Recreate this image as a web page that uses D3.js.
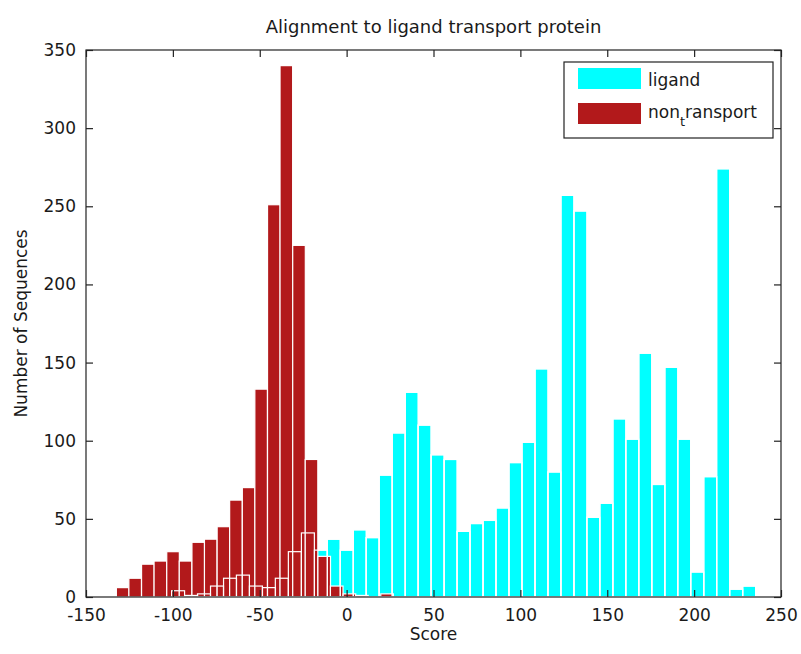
<!DOCTYPE html>
<html>
<head>
<meta charset="utf-8">
<script src="https://cdn.jsdelivr.net/npm/d3@7/dist/d3.min.js"></script>
<style>
  body { margin: 0; background: #fff; }
  text { font-family: "DejaVu Sans", sans-serif; fill: #1a1a1a; }
</style>
</head>
<body>
<div id="chart-area"></div>
<script>
// ligand histogram (bin centres / counts)
const ligandScores = [-97.0, -89.5, -82.1, -74.6, -67.1, -59.7, -52.2, -44.7, -37.3, -29.8,
    -22.3, -14.8, -7.4, 0.1, 7.6, 15.0, 22.5, 30.0, 37.5, 44.9,
    52.4, 59.9, 67.3, 74.8, 82.3, 89.7, 97.2, 104.7, 112.2, 119.6,
    127.1, 134.6, 142.0, 149.5, 157.0, 164.4, 171.9, 179.4, 186.9, 194.3,
    201.8, 209.3, 216.7, 224.2, 231.7];
const ligandCounts = [4, 1, 2, 7, 12, 14, 7, 6, 12, 29,
    41, 30, 37, 30, 43, 38, 78, 105, 131, 110,
    91, 88, 42, 47, 49, 57, 86, 99, 146, 80,
    257, 247, 51, 60, 114, 101, 156, 72, 147, 101,
    16, 77, 274, 5, 7];
const ligandBin = 7.47;

// non_transport histogram
const transportScores = [-128.9, -121.7, -114.4, -107.2, -99.9, -92.7, -85.4, -78.2, -70.9, -63.7,
    -56.4, -49.2, -41.9, -34.7, -27.4, -20.2, -12.9, -5.7, 1.6, 8.8,
    16.1, 23.3];
const transportCounts = [6, 12, 21, 23, 29, 23, 35, 37, 45, 62,
    70, 133, 251, 340, 225, 88, 26, 7, 2, 1,
    0, 2];
const transportBin = 7.25;

const xTicks = [-150, -100, -50, 0, 50, 100, 150, 200, 250];
const yTicks = [0, 50, 100, 150, 200, 250, 300, 350];
const seriesNames = ["ligand", "non", "t", "ransport"];

const cyan = "#00ffff";
const darkRed = "#b2191b";

/* SVG */
const margin = { left: 86, right: 20, top: 50, bottom: 57 };
const width  = 801 - margin.left - margin.right;
const height = 654 - margin.top - margin.bottom;

const svg = d3.select("#chart-area")
    .append("svg")
    .attr("width", 801)
    .attr("height", 654);

const g = svg.append("g")
    .attr("transform", `translate(${margin.left}, ${margin.top})`);

/* Scales */
const x = d3.scaleLinear().domain([-150, 250]).range([0, width]);
const y = d3.scaleLinear().domain([0, 350]).range([height, 0]);

const ligand = ligandScores.map((s, i) => ({ s: s, n: ligandCounts[i] }));
const transport = transportScores.map((s, i) => ({ s: s, n: transportCounts[i] }));

/* Bars */
function bars(data, bin, cls) {
    return g.append("g").attr("class", cls)
        .selectAll("rect")
        .data(data)
        .join("rect")
        .attr("x", d => x(d.s - bin / 2))
        .attr("width", d => x(d.s + bin / 2) - x(d.s - bin / 2))
        .attr("y", d => y(d.n))
        .attr("height", d => y(0) - y(d.n))
        .attr("stroke", "#fff")
        .attr("stroke-width", 1.2);
}

bars(ligand, ligandBin, "ligand").attr("fill", cyan);
bars(transport, transportBin, "transport").attr("fill", darkRed);
// ligand edges show through the red bars
bars(ligand, ligandBin, "ligand-edge").attr("fill", "none");

/* Axes (box, inward ticks) */
const tickLen = 7;
const axisColor = "#222";

g.append("rect")
    .attr("width", width)
    .attr("height", height)
    .attr("fill", "none")
    .attr("stroke", axisColor)
    .attr("stroke-width", 1.2);

const plainNum = d => String(d);   // plain hyphen, like the original

const xAxisBottom = d3.axisBottom(x).tickValues(xTicks).tickSize(-tickLen).tickPadding(12).tickFormat(plainNum);
const xAxisTop = d3.axisTop(x).tickValues(xTicks).tickSize(-tickLen).tickFormat("");
const yAxisLeft = d3.axisLeft(y).tickValues(yTicks).tickSize(-tickLen).tickPadding(10).tickFormat(plainNum);
const yAxisRight = d3.axisRight(y).tickValues(yTicks).tickSize(-tickLen).tickFormat("");

function styleAxis(sel) {
    sel.select(".domain").remove();
    sel.selectAll("line").attr("stroke", axisColor).attr("stroke-width", 1.2);
    sel.selectAll("text")
        .style("font-family", "'DejaVu Sans', sans-serif")
        .style("font-size", "17px")
        .attr("fill", "#1a1a1a");
}

g.append("g").attr("transform", `translate(0,${height})`).call(xAxisBottom).call(styleAxis);
g.append("g").call(xAxisTop).call(styleAxis);
g.append("g").call(yAxisLeft).call(styleAxis);
g.append("g").attr("transform", `translate(${width},0)`).call(yAxisRight).call(styleAxis);

/* Labels */
svg.append("text")
    .attr("x", margin.left + width / 2)
    .attr("y", 33)
    .attr("text-anchor", "middle")
    .style("font-size", "18px")
    .text("Alignment to ligand transport protein");

svg.append("text")
    .attr("x", margin.left + width / 2)
    .attr("y", 640)
    .attr("text-anchor", "middle")
    .style("font-size", "17px")
    .text("Score");

svg.append("text")
    .attr("transform", `translate(27, ${margin.top + height / 2}) rotate(-90)`)
    .attr("text-anchor", "middle")
    .style("font-size", "17px")
    .text("Number of Sequences");

/* Legend */
const legend = svg.append("g").attr("transform", "translate(564, 62)");

legend.append("rect")
    .attr("width", 209)
    .attr("height", 76)
    .attr("fill", "#fff")
    .attr("stroke", axisColor)
    .attr("stroke-width", 1.2);

legend.append("rect")
    .attr("x", 14).attr("y", 6)
    .attr("width", 63).attr("height", 21)
    .attr("fill", cyan);

legend.append("rect")
    .attr("x", 14).attr("y", 41)
    .attr("width", 63).attr("height", 21)
    .attr("fill", darkRed);

legend.append("text")
    .attr("x", 84).attr("y", 24)
    .style("font-size", "17px")
    .text(seriesNames[0]);

const nonText = legend.append("text")
    .attr("x", 84).attr("y", 56)
    .style("font-size", "17px");
nonText.append("tspan").text(seriesNames[1]);
nonText.append("tspan").attr("dy", 8).style("font-size", "13px").text(seriesNames[2]);
nonText.append("tspan").attr("dy", -8).text(seriesNames[3]);
</script>
</body>
</html>
